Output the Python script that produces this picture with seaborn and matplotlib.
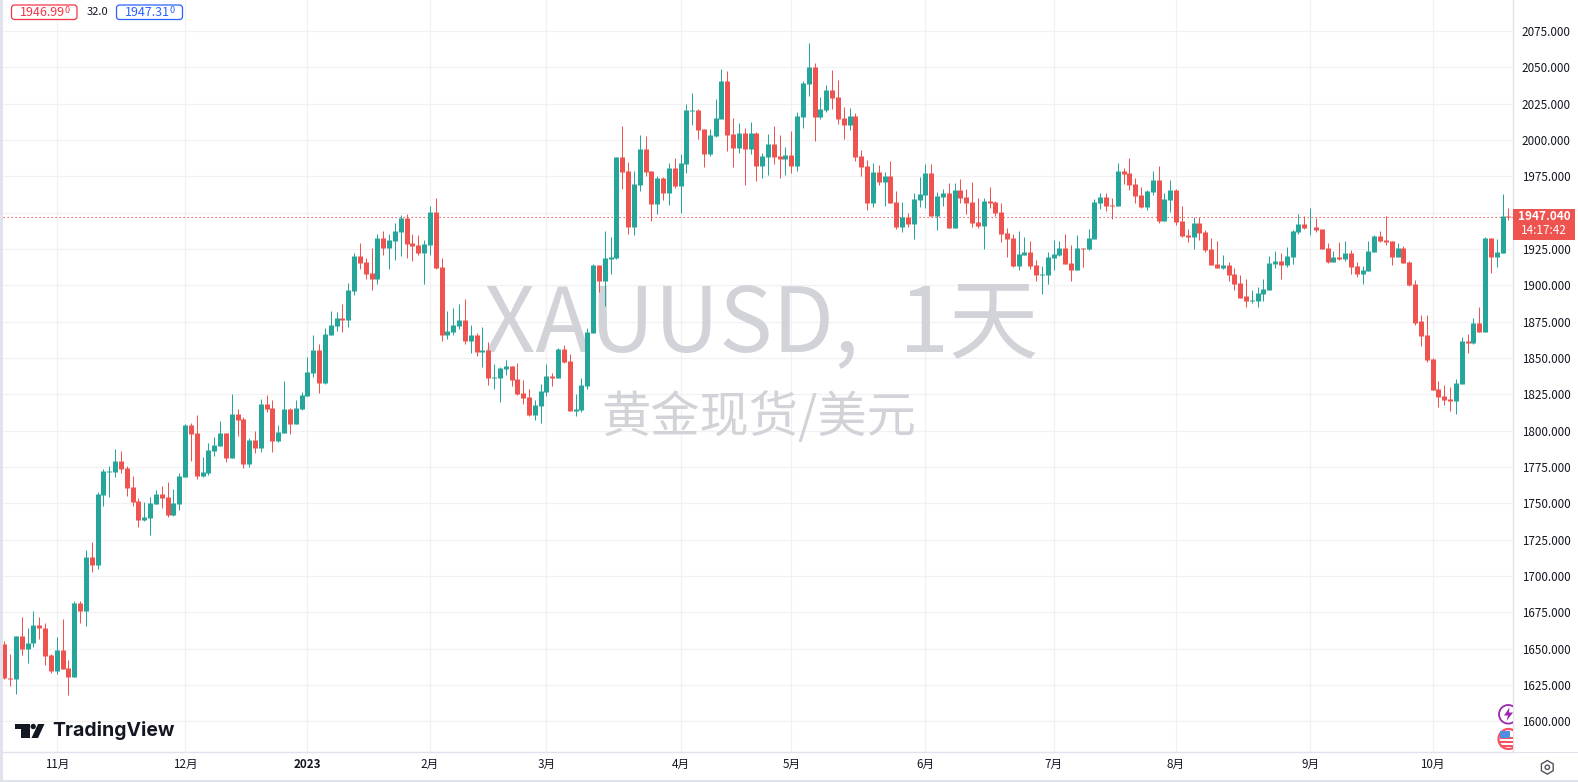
import numpy as np
import pandas as pd
import seaborn as sns
import seaborn.objects as so
import matplotlib
matplotlib.use("Agg")
import matplotlib.pyplot as plt
from matplotlib.patches import Rectangle, FancyBboxPatch, Polygon, Circle, RegularPolygon
from matplotlib.transforms import IdentityTransform

opens = [
1653.5,1630,1629,1659,1650,1654,1666.5,1664.5,1645.3,1634.5,
1649.4,1636.4,1630.4,1681.6,1675.7,1713.2,1707.3,1755.7,1771.8,1771.5,
1779,1774.3,1761.2,1751.6,1738.8,1740.2,1749.8,1756.4,1754.4,1742.2,
1749.8,1768.3,1803.8,1798.3,1768.8,1770.8,1785.9,1789.4,1798.3,1781.1,
1811.3,1807.9,1777,1793.5,1788,1818.2,1815.4,1792.8,1798.3,1814.8,
1804.5,1814.8,1823.7,1839.5,1855.2,1832.6,1865.5,1871.7,1877.2,1875.8,
1896.4,1920.4,1916.3,1908.8,1904,1932.8,1925.9,1930.7,1936.9,1946.5,
1929.3,1928,1922.5,1928,1950.6,1912.9,1865.5,1867.6,1871.7,1875.8,
1861.4,1865.5,1853.9,1855.2,1836,1836,1842.2,1844.3,1835.3,1825.7,
1823,1810.6,1816.8,1826.4,1837.4,1836,1855.9,1847.7,1813.4,1814.1,
1830.5,1866.9,1914.2,1903.3,1918.3,1919,1988.3,1978.7,1940.3,1969.1,
1993.8,1978.7,1956.1,1973.9,1963.6,1980.8,1968.4,1983.5,2019.9,2020.6,
2007.5,1990.4,2002.7,2014.4,2040.5,2004.1,1994.5,2004.8,1993.8,2004.8,
1982.2,1988.3,1997.2,1989,1987,1989.7,1982.2,2015.8,2038.4,2050,
2015.8,2020.6,2034.3,2029.5,2015.1,2010.3,2016.5,1989,1982.2,1956.8,
1978.1,1971.2,1975.3,1957.5,1940.4,1947.2,1942.4,1958.9,1962.3,1977.4,
1947.9,1960.9,1963.7,1939.7,1965.7,1960.9,1957.5,1943.8,1941,1958.2,
1957.5,1950.6,1936.2,1932.8,1913.6,1921.1,1923.2,1914.3,1907.4,1907.4,
1919.1,1921.1,1925.9,1915.6,1910.8,1925.9,1925.3,1932.1,1956.8,1960.9,
1955.4,1954.7,1978.7,1977.4,1969.8,1962.3,1954,1964.3,1972.6,1944.4,
1958.8,1965.7,1944.4,1934.8,1933.4,1943,1936.9,1925.2,1914.9,1912.2,
1914.2,1908,1901.9,1892.3,1888.9,1889.5,1894.3,1897.1,1914.9,1917,
1914.2,1919.7,1936.9,1942.4,1939.9,1940.3,1938.9,1925.8,1916.2,1919.7,
1918.3,1922.4,1913.5,1908,1910,1923.1,1934.1,1931.3,1930.6,1919.7,
1925.8,1916.2,1901.1,1875.1,1865.5,1849,1828.4,1823.6,1821.6,1820.2,
1831.8,1862,1860,1874.4,1868.2,1932.7,1919.7,1922.4,1947.8]
highs = [
1655.6,1646.6,1659,1672,1664,1676,1672,1668,1646.6,1658.3,
1670.7,1642.5,1683,1683,1718,1723.5,1757.8,1773.6,1775.6,1787.3,
1785.9,1775.6,1768.8,1753.7,1750.9,1754.4,1759.2,1761.9,1764.7,1759.9,
1770.8,1804.4,1805.1,1810.6,1781.8,1791.4,1795.5,1806.5,1798.3,1825,
1814.8,1809.3,1794.9,1799.7,1821.6,1824.4,1821,1803.8,1834,1815.4,
1820.9,1826.4,1850.4,1865.5,1859.4,1870.3,1882,1881.3,1886.8,1901.9,
1922.5,1929.3,1919,1925.9,1935.5,1937.6,1935.5,1943,1948.5,1949.2,
1935.5,1934.8,1931.4,1954.7,1960.2,1919,1882,1884.7,1886.8,1890.9,
1872.4,1866.9,1871,1860.7,1845.6,1843.6,1848.4,1844.3,1846.3,1834.7,
1828.5,1820.9,1831.9,1845.6,1839.5,1856.6,1858.7,1852.5,1825,1836,
1870.3,1914.9,1914.2,1937.6,1933.5,1988.5,2009.6,1984.9,1978.7,2003.4,
2002.7,1978.7,1975.3,1974.6,1984.2,1987.6,1990.4,2024.7,2032.2,2021.3,
2007.5,2007.5,2028.1,2048.7,2047.3,2015.1,2011.7,2008.2,2012.3,2005.5,
1991,2004.1,2009.6,2003.4,1995.2,2006.2,2019.2,2040.5,2066.5,2052.8,
2029.5,2037.7,2048,2041.2,2022.6,2021.9,2018.5,1993.2,1986.3,1984.3,
1982.9,1978.1,1985.6,1965,1957.5,1950,1963.7,1974.7,1983.6,1983.6,
1964.4,1966.4,1970.5,1970.5,1973.3,1966.4,1971.2,1960.2,1960.2,1967.8,
1958.2,1956.8,1939.7,1935.5,1937.6,1933.5,1930.7,1917.7,1913.6,1923.2,
1931.4,1930.7,1935.5,1928,1934.9,1925.9,1939,1959.6,1963.7,1963.7,
1960.2,1984.2,1980.8,1987.7,1973.9,1967.8,1965.7,1978.7,1982.2,1963.6,
1972.6,1966.4,1954.7,1938.9,1947.2,1947.2,1938.3,1932.8,1930.7,1921.1,
1916.3,1912.2,1907.4,1904,1897.1,1899.1,1904.6,1920.4,1923.8,1922.5,
1926.6,1938.3,1949.2,1947.9,1953.3,1946.5,1938.9,1929.3,1923.8,1930,
1930.6,1924.5,1916.2,1913.5,1930.6,1934.8,1937.5,1947.8,1930.6,1929.3,
1927.2,1916.9,1903.9,1879.9,1879.9,1849.7,1833.9,1831.2,1829.8,1835.3,
1864.1,1866.2,1877.8,1885.4,1933.4,1932.7,1932,1962.9,1953.3]
lows = [
1629,1624,1618.5,1645.5,1640,1651,1656.5,1639,1633,1632.5,
1636,1618,1630.4,1668,1665.9,1703,1705,1748.4,1754.6,1768,
1770.8,1755,1748.4,1734,1738.1,1728.5,1749.6,1747,1740.9,1741.6,
1745.7,1768.3,1779,1767,1768.3,1769.7,1782.8,1789.4,1778.4,1781.1,
1796.2,1774.3,1775,1784.6,1785.3,1812.7,1785.3,1792.1,1798.3,1797.6,
1804.5,1814.1,1823.7,1836.7,1825.7,1831.9,1865.5,1868.3,1867.6,1871,
1893,1911.5,1904,1897.1,1901.2,1921.1,1911.5,1917.7,1920.4,1919,
1917,1921.1,1901.2,1921.1,1911.5,1862,1862.8,1865.5,1869.6,1859.4,
1853.2,1851.1,1843.6,1831.2,1828.5,1819.6,1838.1,1830.5,1824.4,1818.2,
1810,1807.2,1805.2,1823.7,1830.5,1836,1846.3,1813.4,1810,1812.7,
1828.5,1866.9,1895.7,1886.1,1908.1,1918.3,1966.4,1935.5,1934.8,1965,
1975.3,1944.4,1949.2,1958.8,1955.4,1967,1949.9,1977.4,2010.3,2000.7,
1981.5,1989,2002.1,2014.4,1992.4,1981.5,1991,1969.1,1990.4,1971.9,
1973.9,1976,1983.5,1973.9,1976,1977.3,1978.7,2008.2,2030.2,1999.3,
2014.4,2019.2,2021.3,2011,2000.7,2006.9,1985.6,1975.3,1952,1954.1,
1969.2,1954.8,1956.8,1939,1936.9,1940.4,1932.1,1954.1,1953.4,1947.9,
1938.3,1954.8,1939.7,1939.7,1956.8,1949.3,1940.4,1939.7,1925.3,1953.4,
1947.9,1930,1919.8,1912.9,1910.8,1921.1,1911.5,1903.3,1893.7,1901.2,
1910.2,1920.4,1915,1903.3,1910.2,1912.9,1924.6,1932.1,1952.7,1951.3,
1945.8,1954.7,1969.8,1965.7,1956.8,1953.3,1952,1962.3,1943,1944.4,
1950.6,1941.7,1933.4,1930,1925.2,1931.4,1923.2,1914.2,1912.2,1911.5,
1903.3,1897.1,1891.6,1885.4,1887.5,1885.4,1889.5,1897.1,1912.2,1904,
1912.9,1914.9,1935.5,1938.9,1934.8,1936.9,1925.2,1915.6,1916.2,1917.6,
1916.9,1908,1906,1901.1,1910,1923.1,1930,1927.9,1914.2,1919.7,
1915.6,1899.8,1873,1857.9,1846.9,1827.7,1816.1,1817.4,1813.3,1811.3,
1831.8,1853.1,1859.3,1868.2,1868.2,1908.7,1912.8,1922.4,1945]
closes = [
1629.5,1629,1659,1650,1654,1666.5,1664,1645,1634.5,1649.4,
1636,1630.4,1681.6,1675.7,1713.2,1707.3,1756.4,1772.2,1772.2,1779,
1773.8,1760.5,1751.2,1738.8,1740.6,1750.2,1756.4,1753.9,1742.2,1750.2,
1768.8,1803.8,1797.8,1769,1771.5,1786.6,1790.1,1798.3,1781.1,1811.3,
1807.2,1777,1793.5,1788,1818.2,1814.8,1792.8,1799,1814.8,1804.5,
1815.4,1824.4,1840.1,1855.2,1832.6,1866.2,1872.4,1877.2,1875.8,1897.1,
1920.4,1915.6,1908.1,1904,1932.8,1925.9,1931.4,1937.6,1946.5,1928.7,
1927.3,1922.5,1928.7,1950.6,1912.2,1865.5,1868.3,1872.4,1875.8,1861.4,
1865.5,1853.9,1855.2,1836,1836.7,1842.9,1844.3,1834.7,1825,1822.3,
1810.6,1817.5,1827.1,1837.4,1836,1855.9,1847,1813.4,1814.8,1831.2,
1867.6,1914.2,1903.3,1919,1919.7,1988.3,1978,1940.3,1969.8,1993.8,
1978,1956.1,1973.9,1963.6,1980.8,1968.4,1984.2,2020.6,2020.6,2006.9,
1990.4,2003.4,2015.1,2040.5,2003.4,1994.5,2004.8,1993.8,2004.8,1982.2,
1989,1997.2,1988.3,1987,1989.7,1982.2,2016.5,2039.1,2050,2015.8,
2021.3,2034.3,2028.8,2014.4,2010.3,2016.5,1988.3,1981.5,1956.8,1978.1,
1971.2,1975.3,1956.8,1940.4,1947.2,1942.4,1959.6,1963,1977.4,1947.9,
1961.6,1963.7,1939.7,1965.7,1960.2,1956.8,1943.1,1941,1958.2,1956.8,
1950,1935.5,1932.1,1913.6,1921.8,1923.2,1913.6,1907.4,1908.1,1919.8,
1921.8,1925.9,1915,1910.8,1925.9,1925.3,1932.8,1957.5,1960.9,1954.8,
1954.7,1978.7,1976.7,1969.1,1961.6,1954,1965,1972.6,1944.4,1959.5,
1965.7,1943.7,1934.1,1933.4,1943,1936.2,1924.5,1914.2,1912.2,1914.2,
1907.4,1901.2,1891.6,1888.9,1890.2,1895,1897.8,1915.6,1917,1914.2,
1920.4,1937.6,1942.4,1939.6,1940.3,1938.3,1925.2,1916.2,1919.7,1918.3,
1922.4,1912.8,1908,1910.7,1923.8,1934.1,1930.6,1930,1919.7,1925.8,
1915.6,1900.5,1874.4,1864.8,1848.3,1827.7,1822.9,1820.9,1820.2,1832.5,
1862,1860,1874.4,1868.2,1932.7,1919.7,1923.1,1947.8,1947.04]

n = len(opens)

price_ticks = list(range(1600, 2100, 25))
month_days = [9, 31, 52, 73, 93, 116, 135, 158, 180, 201, 224, 245]
month_labels = ["11月", "12月", "2023", "2月", "3月", "4月", "5月", "6月", "7月", "8月", "9月", "10月"]
last_price = 1947.04

UP, DOWN = "#26a69a", "#ef5350"
W, H = 1578, 782
GRID, EDGE, INK = "#f1f1f4", "#e0e3eb", "#131722"
FONT = ["Noto Sans CJK SC", "DejaVu Sans"]
MARK = "#d1d3d8"

sns.set_theme(style="white")
plt.rcParams["font.family"] = FONT

df = pd.DataFrame({"day": np.arange(n), "open": opens, "high": highs, "low": lows, "close": closes})
df["direction"] = np.where(df["close"] >= df["open"], "up", "down")
df["top"] = df[["open", "close"]].max(axis=1)
df["bottom"] = df[["open", "close"]].min(axis=1)

fig = plt.figure(figsize=(W / 100, H / 100), dpi=100, facecolor="white")
ax = fig.add_axes([3 / W, (H - 752) / H, 1510 / W, 752 / H])

(so.Plot(df, x="day", color="direction")
 .add(so.Range(linewidth=0.72, artist_kws={"capstyle": "butt"}), ymin="low", ymax="high", legend=False)
 .add(so.Range(linewidth=3.6, artist_kws={"capstyle": "butt"}), ymin="bottom", ymax="top", legend=False)
 .scale(color={"up": UP, "down": DOWN})
 .on(ax)
 .plot())
for coll in ax.collections:
    coll.set_alpha(1)
    coll.set_zorder(3)
    coll.set_snap(True)

ax.set_xlim(-0.23, 258.8)
ax.set_ylim(1578.9, 2096.3)
ax.set_facecolor("white")
ax.set_xlabel("")
ax.set_ylabel("")
ax.set_axisbelow(True)
ax.yaxis.tick_right()
ax.set_yticks(price_ticks, [f"{p:.3f}" for p in price_ticks])
ax.set_xticks(month_days, month_labels)
ax.grid(True, color=GRID, lw=0.9)
ax.tick_params(axis="both", length=0, colors=INK, labelsize=8.4)
ax.tick_params(axis="y", pad=6.2)
ax.tick_params(axis="x", pad=4)
for t in ax.get_xticklabels() + ax.get_yticklabels():
    t.set_fontfamily(FONT)
    if t.get_text() == "2023":
        t.set_fontweight("bold")
for s in ("top", "left"):
    ax.spines[s].set_visible(False)
for s in ("right", "bottom"):
    ax.spines[s].set_visible(True)
    ax.spines[s].set_color(EDGE)
    ax.spines[s].set_linewidth(1.0)

ax.axhline(last_price, color=DOWN, lw=0.8, ls=(0, (1.2, 2.4)), zorder=1.5)

ID = IdentityTransform()

# watermark
ax.text(484, H - 350.7, "XAUUSD,  1天", transform=ID, ha="left", va="baseline",
        fontsize=64.5, color=MARK, zorder=1, family=FONT)
ax.text(758.5, H - 418, "黄金现货/美元", transform=ID, ha="center", va="center",
        fontsize=35.5, color=MARK, zorder=1, family=FONT)


def add_rect(x0, y0, x1, y1, color, z=1):
    fig.add_artist(Rectangle((x0, H - y1), x1 - x0, y1 - y0, transform=ID, fc=color, ec="none", zorder=z))


def add_text(x, y, s, **kw):
    kw.setdefault("family", FONT)
    kw.setdefault("va", "center")
    fig.text(x, H - y, s, transform=ID, **kw)


# frame strips
add_rect(0, 0, 3, H, EDGE)
add_rect(0, 780, W, H, EDGE)
add_rect(1513, 751.5, W, 752.5, EDGE)

# price tag
add_rect(1513, 209, 1575, 240, DOWN, z=2)
add_text(1544, 217, "1947.040", color="white", fontsize=8.5, fontweight="bold", ha="center", zorder=3)
add_text(1544, 231, "14:17:42", color="white", fontsize=8.5, ha="center", zorder=3)

# top-left badges
for x0, x1, col, txt in [(11.5, 77, "#f23645", "1946.99"), (116.5, 182.5, "#2962ff", "1947.31")]:
    fig.add_artist(FancyBboxPatch((x0, H - 19.5), x1 - x0, 14.5, boxstyle="round,pad=0,rounding_size=3",
                                  transform=ID, fc="white", ec=col, lw=0.9, zorder=2))
    add_text(x0 + 8.5, 12, txt, color=col, fontsize=9, ha="left", zorder=3)
    add_text(x0 + 53, 10.5, "0", color=col, fontsize=6.5, ha="left", zorder=3)
add_text(97, 12, "32.0", color=INK, fontsize=8, ha="center", zorder=3)

# TradingView logo
LOGO = "#131722"
fig.add_artist(Polygon([(15, H - 724), (30, H - 724), (30, H - 738), (21, H - 738), (21, H - 729), (15, H - 729)],
                       transform=ID, fc=LOGO, ec="none", zorder=2))
fig.add_artist(Circle((33.2, H - 726.5), 2.7, transform=ID, fc=LOGO, ec="none", zorder=2))
fig.add_artist(Polygon([(38, H - 724), (44.5, H - 724), (38, H - 738), (31.5, H - 738)],
                       transform=ID, fc=LOGO, ec="none", zorder=2))
add_text(52.5, 730.5, "TradingView", color=LOGO, fontsize=14, ha="left", fontweight="bold",
         family=["Inter", "DejaVu Sans"], zorder=3)

# event icons, clipped by the pane
ring1 = Circle((1508.3, H - 714.3), 9.3, transform=ID, fc="white", ec="#9c27b0", lw=1.3, zorder=5)
bolt = Polygon([(1509.5, H - 707.5), (1504, H - 715.5), (1508, H - 715.5), (1506.5, H - 721), (1513, H - 712.5), (1509, H - 712.5)],
               transform=ID, fc="#9c27b0", ec="none", zorder=6)
ring2 = Circle((1508.5, H - 739), 10, transform=ID, fc="white", ec="#f7525f", lw=1.6, zorder=5)
icons = [ring1, bolt, ring2]
for yy in (737, 741, 745):
    icons.append(Rectangle((1500, H - yy - 1.5), 14, 1.6, transform=ID, fc="#f7525f", ec="none", zorder=6))
icons.append(Rectangle((1500, H - 738), 10, 7.5, transform=ID, fc="#4d8fe0", ec="none", zorder=7))
for art in icons:
    ax.add_artist(art)
    art.set_clip_path(ax.patch)

# settings icon
fig.add_artist(RegularPolygon((1547.3, H - 767.3), 6, radius=6.8, orientation=np.pi / 2 + np.pi / 6, transform=ID,
                              fc="white", ec="#50535e", lw=1, zorder=3))
fig.add_artist(Circle((1547.3, H - 767.3), 2.2, transform=ID, fc="white", ec="#50535e", lw=1, zorder=4))

fig.savefig("out.png", dpi=100, facecolor="white")
